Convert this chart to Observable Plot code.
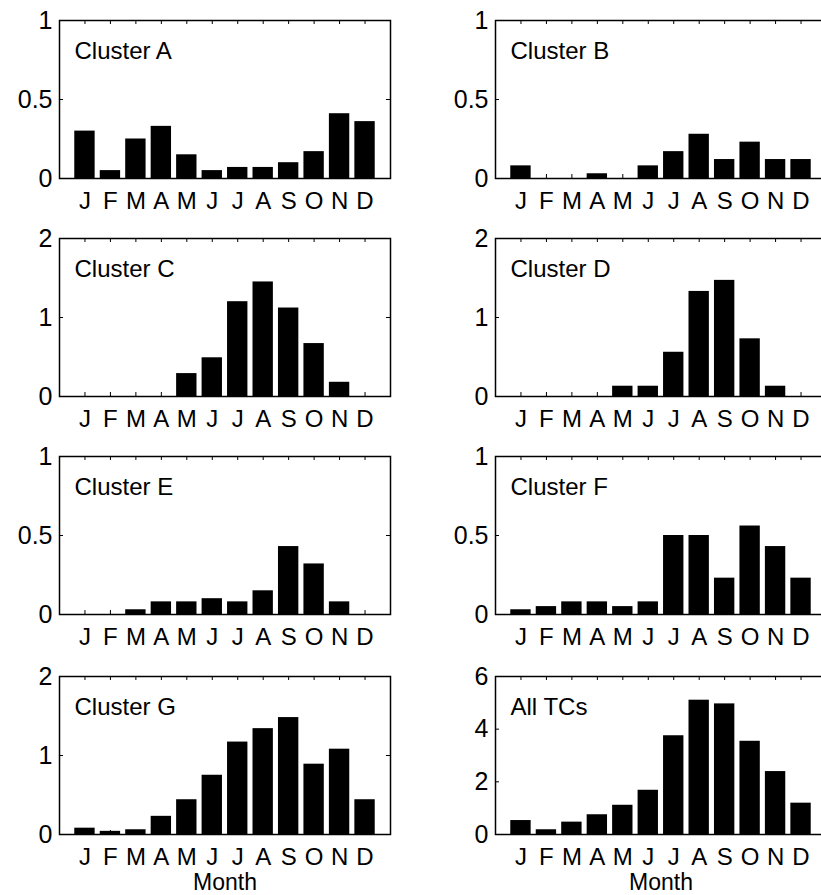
<!DOCTYPE html>
<html><head><meta charset="utf-8">
<script src="https://cdn.jsdelivr.net/npm/d3@7"></script>
<script src="https://cdn.jsdelivr.net/npm/@observablehq/plot@0.6"></script>
<style>
html,body{margin:0;padding:0;background:#fff;overflow:hidden;}
#fig{position:relative;width:821px;height:895px;overflow:hidden;background:#fff;}
#fig > div{position:absolute;}
#fig svg{max-width:none;display:block;overflow:visible;}
</style></head><body><div id="fig"></div>
<script>
// ---- data ----
const months = ["J","F","M","A","M","J","J","A","S","O","N","D"];
const panelNames = ["Cluster A","Cluster B","Cluster C","Cluster D","Cluster E","Cluster F","Cluster G","All TCs"];
const clusterA = [0.30,0.05,0.25,0.33,0.15,0.05,0.07,0.07,0.10,0.17,0.41,0.36];
const clusterB = [0.08,0,0,0.03,0,0.08,0.17,0.28,0.12,0.23,0.12,0.12];
const clusterC = [0,0,0,0,0.29,0.49,1.20,1.45,1.12,0.67,0.18,0];
const clusterD = [0,0,0,0,0.13,0.13,0.56,1.33,1.47,0.73,0.13,0];
const clusterE = [0,0,0.03,0.08,0.08,0.10,0.08,0.15,0.43,0.32,0.08,0];
const clusterF = [0.03,0.05,0.08,0.08,0.05,0.08,0.50,0.50,0.23,0.56,0.43,0.23];
const clusterG = [0.08,0.04,0.06,0.23,0.44,0.75,1.17,1.34,1.48,0.89,1.08,0.44];
const allTCs   = [0.53,0.18,0.47,0.75,1.11,1.68,3.75,5.10,4.96,3.54,2.39,1.19];
const ticksHalf = [0,0.5,1];
const ticksOne = [0,1,2];
const ticksTwo = [0,2,4,6];
const xLabel = "Month";

const series = [clusterA,clusterB,clusterC,clusterD,clusterE,clusterF,clusterG,allTCs];
const yTickSets = [ticksHalf,ticksHalf,ticksOne,ticksOne,ticksHalf,ticksHalf,ticksOne,ticksTwo];

// ---- layout ----
const FW = 331, FH = 158;
const mL = 59, mT = 15, mR = 12;
const colFrameLeft = [59, 494.5];
const rowFrameTop = [19.5, 237.5, 455.5, 675.5];
const idx = months.map((m,i)=>i+1);
const fontFamily = "'Liberation Sans', Arial, Helvetica, sans-serif";
const fig = document.getElementById("fig");

series.forEach((vals, p) => {
  const col = p % 2, row = Math.floor(p / 2);
  const yt = yTickSets[p];
  const yMax = yt[yt.length-1];
  const last = row === 3;
  const mB = last ? 62 : 44;
  const data = vals.map((v,i)=>({m: i+1, v}));
  const marks = [
    Plot.rectY(data, {x1: d=>d.m-0.4, x2: d=>d.m+0.4, y1: 0, y2: d=>d.v, fill: "black"}),
    Plot.tickX(idx, {x: d=>d, insetTop: FH-4, stroke: "black", strokeWidth: 1}),
    Plot.tickX(idx, {x: d=>d, insetBottom: FH-4, stroke: "black", strokeWidth: 1}),
    Plot.tickY(yt, {y: d=>d, insetRight: FW-4, stroke: "black", strokeWidth: 1}),
    Plot.tickY(yt, {y: d=>d, insetLeft: FW-4, stroke: "black", strokeWidth: 1}),
    Plot.frame({stroke: "black", strokeWidth: 1.5}),
    Plot.axisX(idx, {tickSize: 0, tickPadding: 13, tickFormat: i=>months[i-1], fontSize: 24, label: null, fill: "black"}),
    Plot.axisY(yt, {tickSize: 0, tickPadding: 7, tickFormat: d=>String(d), fontSize: 25, label: null, fill: "black"}),
    Plot.text([panelNames[p]], {text: d=>d, frameAnchor: "top-left", textAnchor: "start", lineAnchor: "top", dx: 15, dy: 21, fontSize: 24, fill: "black"})
  ];
  if (last) marks.push(Plot.text([xLabel], {text: d=>d, frameAnchor: "bottom", lineAnchor: "top", dy: 39, fontSize: 23, fill: "black"}));
  const chart = Plot.plot({
    width: mL + FW + mR,
    height: mT + FH + mB,
    marginLeft: mL, marginRight: mR, marginTop: mT, marginBottom: mB,
    x: {domain: [0, 13], axis: null},
    y: {domain: [0, yMax], axis: null},
    style: {fontFamily, color: "black", background: "transparent"},
    marks
  });
  const wrap = document.createElement("div");
  wrap.style.left = (colFrameLeft[col] - mL) + "px";
  wrap.style.top = (rowFrameTop[row] - mT) + "px";
  wrap.appendChild(chart);
  fig.appendChild(wrap);
});
</script></body></html>
